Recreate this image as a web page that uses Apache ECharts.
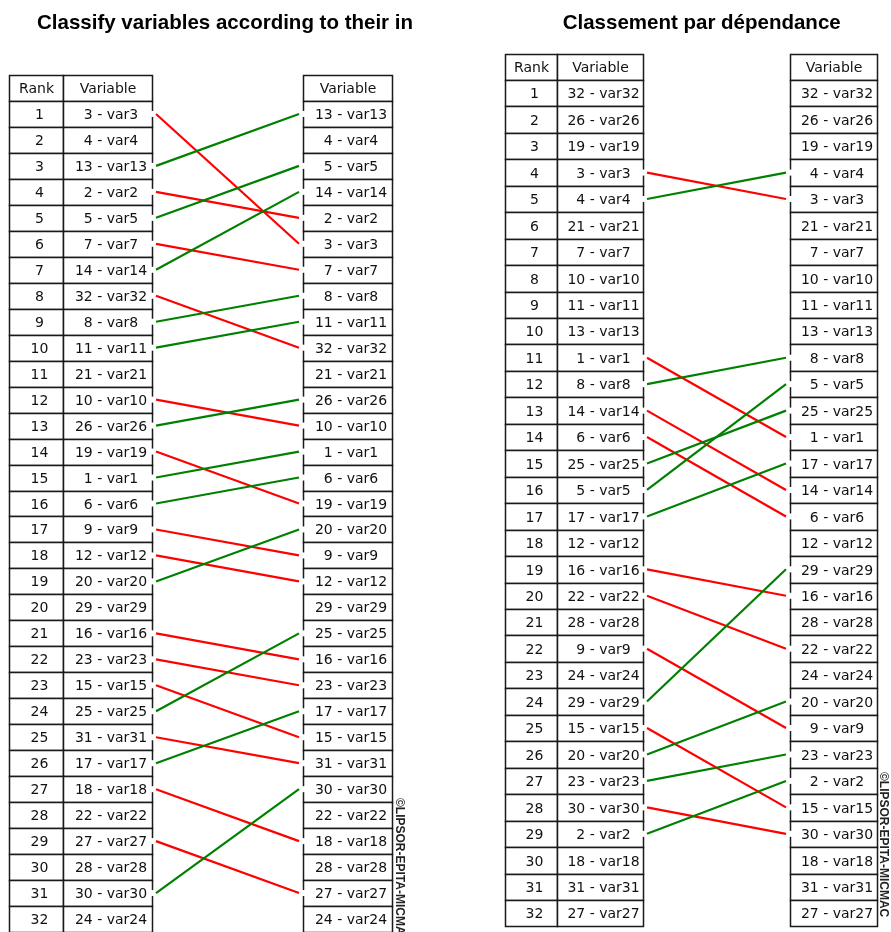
<!DOCTYPE html>
<html><head><meta charset="utf-8">
<script src="https://cdn.jsdelivr.net/npm/echarts@6/dist/echarts.min.js"></script>
<style>html,body{margin:0;padding:0;background:#fff}#c{width:891px;height:932px}</style>
</head><body><div id="c"></div>
<script>
// ---- data ----
const ranks = [1,2,3,4,5,6,7,8,9,10,11,12,13,14,15,16,17,18,19,20,21,22,23,24,25,26,27,28,29,30,31,32];
const headers = ['Rank', 'Variable', 'Variable'];
const titles = ['Classify variables according to their in', 'Classement par dépendance'];
const watermark = '\u00A9LIPSOR-EPITA-MICMAC';

const influenceBefore = ['3 - var3','4 - var4','13 - var13','2 - var2','5 - var5','7 - var7','14 - var14','32 - var32','8 - var8','11 - var11','21 - var21','10 - var10','26 - var26','19 - var19','1 - var1','6 - var6','9 - var9','12 - var12','20 - var20','29 - var29','16 - var16','23 - var23','15 - var15','25 - var25','31 - var31','17 - var17','18 - var18','22 - var22','27 - var27','28 - var28','30 - var30','24 - var24'];
const influenceAfter = ['13 - var13','4 - var4','5 - var5','14 - var14','2 - var2','3 - var3','7 - var7','8 - var8','11 - var11','32 - var32','21 - var21','26 - var26','10 - var10','1 - var1','6 - var6','19 - var19','20 - var20','9 - var9','12 - var12','29 - var29','25 - var25','16 - var16','23 - var23','17 - var17','15 - var15','31 - var31','30 - var30','22 - var22','18 - var18','28 - var28','27 - var27','24 - var24'];
const dependBefore = ['32 - var32','26 - var26','19 - var19','3 - var3','4 - var4','21 - var21','7 - var7','10 - var10','11 - var11','13 - var13','1 - var1','8 - var8','14 - var14','6 - var6','25 - var25','5 - var5','17 - var17','12 - var12','16 - var16','22 - var22','28 - var28','9 - var9','24 - var24','29 - var29','15 - var15','20 - var20','23 - var23','30 - var30','2 - var2','18 - var18','31 - var31','27 - var27'];
const dependAfter = ['32 - var32','26 - var26','19 - var19','4 - var4','3 - var3','21 - var21','7 - var7','10 - var10','11 - var11','13 - var13','8 - var8','5 - var5','25 - var25','1 - var1','17 - var17','14 - var14','6 - var6','12 - var12','29 - var29','16 - var16','28 - var28','22 - var22','24 - var24','20 - var20','9 - var9','23 - var23','2 - var2','15 - var15','30 - var30','18 - var18','31 - var31','27 - var27'];

// ---- layout ----
const FONT = '"DejaVu Sans", sans-serif';
const panels = [
  { before: influenceBefore, after: influenceAfter, title: titles[0], titleX: 225, titleY: 23,
    left: 9.3, top: 75, rowH: 26.18, cols: [0, 53.4, 142.7, 293.7, 382.4], wmX: 399, wmY: 798 },
  { before: dependBefore, after: dependAfter, title: titles[1], titleX: 701.7, titleY: 23,
    left: 505, top: 53.55, rowH: 26.45, cols: [0, 52, 138, 285, 372], wmX: 883, wmY: 772 }
];

const chart = echarts.init(document.getElementById('c'), null, { renderer: 'canvas' });
const grid = [], xAxis = [], yAxis = [], series = [], graphic = [];

function crisp(v) { return Math.round(v) + 0.5; }

panels.forEach((p, pi) => {
  grid.push({ left: p.left, top: p.top, width: p.cols[4], height: p.rowH * 33 });
  xAxis.push({ type: 'value', gridIndex: pi, min: 0, max: p.cols[4], show: false });
  yAxis.push({ type: 'value', gridIndex: pi, min: -0.5, max: 32.5, inverse: true, show: false });

  const rows = [[0]].concat(ranks.map(r => [r]));
  series.push({
    type: 'custom', xAxisIndex: pi, yAxisIndex: pi, z: 1, silent: true,
    data: rows,
    renderItem: function (params, api) {
      const r = api.value(0);
      const i = params.dataIndex;
      const y0 = crisp(api.coord([0, r - 0.5])[1]);
      const y1 = crisp(api.coord([0, r + 0.5])[1]);
      const xs = p.cols.map(c => crisp(api.coord([c, r])[0]));
      const isHead = i === 0;
      const texts = isHead ? headers : [String(ranks[i - 1]), p.before[i - 1], p.after[i - 1]];
      const cells = [[xs[0], xs[1]], [xs[1], xs[2]], [xs[3], xs[4]]];
      const off = isHead ? 0 : 3;
      const children = [];
      cells.forEach((c, k) => {
        children.push({ type: 'rect', shape: { x: c[0], y: y0, width: c[1] - c[0], height: y1 - y0 },
          style: { fill: '#fff', stroke: '#1a1a1a', lineWidth: 1.5 } });
        children.push({ type: 'text', x: (c[0] + c[1]) / 2 + off, y: (y0 + y1) / 2 + 1,
          style: { text: texts[k], fill: '#111', font: '14px ' + FONT, align: 'center', verticalAlign: 'middle' } });
      });
      return { type: 'group', children: children };
    }
  });

  const moves = [];
  p.before.forEach((name, i) => {
    const j = p.after.indexOf(name);
    if (j !== i) moves.push([ranks[i], ranks[j]]);
  });
  series.push({
    type: 'custom', xAxisIndex: pi, yAxisIndex: pi, z: 5, silent: true,
    data: moves,
    renderItem: function (params, api) {
      const from = api.value(0), to = api.value(1);
      const a = api.coord([p.cols[2] + 4, from]);
      const b = api.coord([p.cols[3] - 4, to]);
      const bl = api.coord([p.cols[2], from])[0];
      const br = api.coord([p.cols[3], to])[0];
      const color = to > from ? '#ff0000' : '#008000';
      return { type: 'group', children: [
        { type: 'rect', shape: { x: bl - 2, y: a[1] - 3, width: 4, height: 6 }, style: { fill: '#fff' } },
        { type: 'rect', shape: { x: br - 2, y: b[1] - 3, width: 4, height: 6 }, style: { fill: '#fff' } },
        { type: 'line', shape: { x1: a[0], y1: a[1], x2: b[0], y2: b[1] },
          style: { stroke: color, lineWidth: 2.2 } }
      ] };
    }
  });

  graphic.push({ type: 'text', x: p.titleX, y: p.titleY, silent: true,
    style: { text: p.title, fill: '#000', font: 'bold 20.5px "Liberation Sans", Arial, sans-serif', align: 'center', verticalAlign: 'middle' } });
  graphic.push({ type: 'text', x: p.wmX, y: p.wmY, rotation: -Math.PI / 2, silent: true,
    style: { text: watermark, fill: '#222', font: 'bold 12px "Liberation Sans", Arial, sans-serif', align: 'left', verticalAlign: 'middle' } });
});

chart.setOption({ backgroundColor: '#fff', animation: false, grid, xAxis, yAxis, series, graphic });
</script></body></html>
